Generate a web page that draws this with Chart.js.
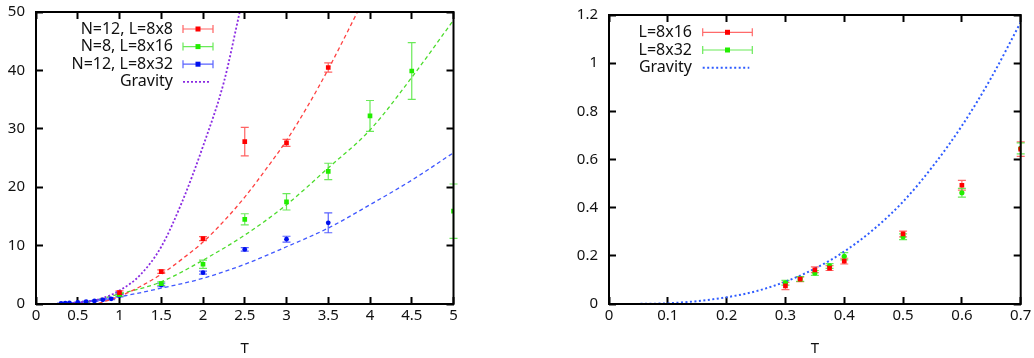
<!DOCTYPE html>
<html>
<head>
<meta charset="utf-8">
<script src="https://cdn.jsdelivr.net/npm/chart.js@4.4.1/dist/chart.umd.min.js"></script>
<style>
  body { margin: 0; background: #fff; }
  #wrap { position: relative; width: 1034px; height: 358px; }
  canvas { position: absolute; top: 0; }
</style>
</head>
<body>
<div id="wrap">
  <canvas id="leftChart" width="517" height="358" style="left:0"></canvas>
  <canvas id="rightChart" width="517" height="358" style="left:517px"></canvas>
</div>
<script>
// ---- left panel data ----
const n12l8T = [1, 1.5, 2, 2.5, 3, 3.5];
const n12l8E = [1.95, 5.55, 11.2, 27.8, 27.6, 40.5];
const n12l8Err = [0.3, 0.3, 0.35, 2.45, 0.6, 0.8];

const n8l16T = [1, 1.5, 2, 2.5, 3, 3.5, 4, 4.5, 5];
const n8l16E = [1.6, 3.5, 6.8, 14.5, 17.5, 22.7, 32.2, 39.9, 15.9];
const n8l16Err = [0.3, 0.3, 0.7, 0.95, 1.4, 1.4, 2.65, 4.85, 4.65];

const n12l32T = [0.3, 0.35, 0.4, 0.5, 0.6, 0.7, 0.8, 0.9, 1, 1.5, 2, 2.5, 3, 3.5];
const n12l32E = [0.1, 0.13, 0.17, 0.27, 0.4, 0.52, 0.72, 0.88, 1.45, 3.25, 5.37, 9.35, 11.1, 13.9];
const n12l32Err = [0.05, 0.05, 0.05, 0.06, 0.08, 0.08, 0.1, 0.12, 0.25, 0.3, 0.25, 0.3, 0.5, 1.7];

// fitted curves
const fitRedT = [0.75, 1, 1.25, 1.5, 1.75, 2, 2.25, 2.5, 2.75, 3, 3.25, 3.5, 3.85];
const fitRedE = [0.1, 1.3, 3.0, 5.1, 7.7, 10.6, 14.2, 18.3, 23, 28, 33.8, 40.2, 50];
const fitGreenT = [0.6, 1, 1.5, 2, 2.5, 3, 3.5, 4, 4.5, 5];
const fitGreenE = [0.3, 1.7, 3.8, 7.5, 11.8, 17.0, 23.3, 29.8, 38.8, 48.6];
const fitBlueT = [0.3, 0.5, 1, 1.5, 2, 2.5, 3, 3.5, 4, 4.5, 5];
const fitBlueE = [0.05, 0.3, 1.25, 2.7, 4.4, 6.8, 9.8, 13.0, 17.0, 21.2, 25.9];
const gravLT = [0.3, 0.5, 0.75, 1, 1.25, 1.5, 1.75, 2, 2.25, 2.44];
const gravLE = [0.05, 0.25, 0.8, 2.3, 5.0, 9.8, 17.5, 27, 38, 50];

// ---- right panel data ----
const rightT = [0.3, 0.325, 0.35, 0.375, 0.4, 0.5, 0.6, 0.7];
const l16E = [0.075, 0.103, 0.142, 0.149, 0.178, 0.291, 0.493, 0.643];
const l16Err = [0.015, 0.01, 0.012, 0.01, 0.012, 0.012, 0.02, 0.03];
const l32E = [0.088, 0.104, 0.129, 0.158, 0.198, 0.279, 0.462, 0.646];
const l32Err = [0.01, 0.01, 0.01, 0.01, 0.015, 0.012, 0.018, 0.023];
const gravRT = [0, 0.05, 0.1, 0.15, 0.2, 0.25, 0.3, 0.35, 0.4, 0.45, 0.5, 0.55, 0.6, 0.65, 0.7];
const gravRE = [0, 0.0005, 0.003, 0.012, 0.028, 0.053, 0.093, 0.147, 0.218, 0.31, 0.425, 0.57, 0.74, 0.94, 1.17];

const FONT = 'Noto Sans';
const TICK = 7;
const pts = (xs, ys) => xs.map((x, i) => ({x: x, y: ys[i]}));

// error bars, drawn under the points
const errorBars = {
  id: 'errorBars',
  beforeDatasetsDraw(chart) {
    const {ctx, scales: {x, y}} = chart;
    ctx.save();
    ctx.setLineDash([]);
    chart.data.datasets.forEach(ds => {
      if (!ds.errors) return;
      ctx.strokeStyle = ds.errColor;
      ctx.lineWidth = 1.2;
      ds.data.forEach((p, i) => {
        const px = x.getPixelForValue(p.x);
        const top = y.getPixelForValue(p.y + ds.errors[i]);
        const bot = y.getPixelForValue(p.y - ds.errors[i]);
        ctx.beginPath();
        ctx.moveTo(px, top); ctx.lineTo(px, bot);
        ctx.moveTo(px - 4, top); ctx.lineTo(px + 4, top);
        ctx.moveTo(px - 4, bot); ctx.lineTo(px + 4, bot);
        ctx.stroke();
      });
    });
    ctx.restore();
  }
};

// closed box round the plot area
const frame = {
  id: 'boxFrame',
  afterDraw(chart) {
    const {ctx, chartArea: a} = chart;
    ctx.save();
    ctx.setLineDash([]);
    ctx.strokeStyle = '#000';
    ctx.lineWidth = 2;
    ctx.strokeRect(a.left, a.top, a.right - a.left, a.bottom - a.top);
    ctx.restore();
  }
};

// key: text right aligned, sample on the right
const key = {
  id: 'key',
  afterDraw(chart) {
    const o = chart.options.plugins.key;
    const ctx = chart.ctx;
    ctx.save();
    ctx.font = '16px "' + FONT + '"';
    ctx.textAlign = 'right';
    ctx.textBaseline = 'middle';
    chart.data.datasets.filter(d => d.label).forEach((ds, i) => {
      const yy = o.top + i * o.step;
      ctx.fillStyle = '#111';
      ctx.fillText(ds.label, o.textRight, yy);
      ctx.lineWidth = ds.errors ? 1.2 : ds.borderWidth;
      ctx.strokeStyle = ds.errors ? ds.errColor : ds.borderColor;
      ctx.setLineDash(ds.errors ? [] : ds.borderDash);
      const x2 = ds.errors ? o.lineTo : o.lineTo - 3;
      ctx.beginPath();
      ctx.moveTo(o.lineFrom, yy); ctx.lineTo(x2, yy);
      if (ds.errors) {
        ctx.moveTo(o.lineFrom, yy - 4); ctx.lineTo(o.lineFrom, yy + 4);
        ctx.moveTo(o.lineTo, yy - 4); ctx.lineTo(o.lineTo, yy + 4);
      }
      ctx.stroke();
      ctx.setLineDash([]);
      if (ds.errors) {
        const mid = (o.lineFrom + o.lineTo) / 2;
        ctx.fillStyle = ds.pointBackgroundColor;
        ctx.fillRect(mid - 2.5, yy - 2.5, 5, 5);
      }
    });
    ctx.restore();
  }
};

// tick marks pointing into the plot (negative tick length)
const inwardGrid = {display: true, drawOnChartArea: false, drawTicks: true,
  tickLength: -TICK, tickWidth: 2, tickColor: '#000'};

function axes(xMax, xStep, yMax, yStep, yWidth) {
  const tickFont = {family: FONT, size: 15};
  const fmt = v => String(+v.toFixed(2));
  return {
    x: {
      type: 'linear', position: 'bottom', min: 0, max: xMax,
      ticks: {stepSize: xStep, padding: 3 + TICK, color: '#111', font: tickFont, maxRotation: 0, callback: fmt},
      grid: inwardGrid,
      border: {display: false},
      title: {display: true, text: 'T', color: '#111', font: tickFont, padding: 0},
      afterFit: s => { s.height = 54; s.paddingLeft = 0; s.paddingRight = 0; }
    },
    x2: {
      type: 'linear', position: 'top', min: 0, max: xMax,
      ticks: {stepSize: xStep, display: false},
      grid: inwardGrid,
      border: {display: false},
      afterFit: s => { s.height = 0; s.paddingLeft = 0; s.paddingRight = 0; }
    },
    y: {
      type: 'linear', position: 'left', min: 0, max: yMax,
      ticks: {stepSize: yStep, padding: 11 + TICK, color: '#111', font: tickFont, callback: fmt},
      grid: inwardGrid,
      border: {display: false},
      afterFit: s => { s.width = yWidth; s.paddingTop = 0; s.paddingBottom = 0; }
    },
    y2: {
      type: 'linear', position: 'right', min: 0, max: yMax,
      ticks: {stepSize: yStep, display: false},
      grid: inwardGrid,
      border: {display: false},
      afterFit: s => { s.width = 0; s.paddingTop = 0; s.paddingBottom = 0; }
    }
  };
}

function series(label, xs, ys, errs, color, errColor, style, radius) {
  return {
    label: label, data: pts(xs, ys), errors: errs, errColor: errColor,
    showLine: false, pointStyle: style, pointRadius: radius,
    pointBackgroundColor: color, pointBorderWidth: 0, borderColor: color
  };
}

function curve(xs, ys, color, dash, width, label) {
  return {
    label: label || '', data: pts(xs, ys), showLine: true, pointRadius: 0,
    borderColor: color, borderWidth: width, borderDash: dash,
    cubicInterpolationMode: 'monotone', fill: false
  };
}

const common = {
  responsive: false,
  animation: false,
  events: []
};

new Chart('leftChart', {
  type: 'scatter',
  data: {
    datasets: [
      series('N=12, L=8x8', n12l8T, n12l8E, n12l8Err, '#ff0000', 'rgba(255,70,70,0.85)', 'rect', 3.3),
      series('N=8, L=8x16', n8l16T, n8l16E, n8l16Err, '#22ee00', 'rgba(80,230,60,0.85)', 'rect', 3.3),
      series('N=12, L=8x32', n12l32T, n12l32E, n12l32Err, '#0010ee', 'rgba(60,70,255,0.85)', 'circle', 2.4),
      curve(gravLT, gravLE, '#8a2be2', [2, 2], 1.8, 'Gravity'),
      curve(fitRedT, fitRedE, '#ff4040', [4, 3], 1.3),
      curve(fitGreenT, fitGreenE, '#4cdc2c', [4, 3], 1.3),
      curve(fitBlueT, fitBlueE, '#4058ff', [4, 3], 1.3)
    ]
  },
  options: Object.assign({}, common, {
    layout: {padding: {top: 12, right: 63.5, left: 0, bottom: 0}},
    scales: axes(5, 0.5, 50, 10, 36),
    plugins: {
      legend: {display: false}, tooltip: {enabled: false},
      key: {textRight: 173, top: 29, step: 17.6, lineFrom: 183, lineTo: 213}
    }
  }),
  plugins: [errorBars, frame, key]
});

new Chart('rightChart', {
  type: 'scatter',
  data: {
    datasets: [
      series('L=8x16', rightT, l16E, l16Err, '#ff0000', 'rgba(255,80,80,0.85)', 'rect', 3.3),
      series('L=8x32', rightT, l32E, l32Err, '#22ee00', 'rgba(80,230,60,0.85)', 'circle', 2.6),
      curve(gravRT, gravRE, '#2f5cff', [2, 2.5], 2, 'Gravity')
    ]
  },
  options: Object.assign({}, common, {
    layout: {padding: {top: 15, right: 13.3, left: 0, bottom: 0}},
    scales: axes(0.7, 0.1, 1.2, 0.2, 92),
    plugins: {
      legend: {display: false}, tooltip: {enabled: false},
      key: {textRight: 175, top: 32.3, step: 17.7, lineFrom: 185.7, lineTo: 235.3}
    }
  }),
  plugins: [errorBars, frame, key]
});
</script>
</body>
</html>
